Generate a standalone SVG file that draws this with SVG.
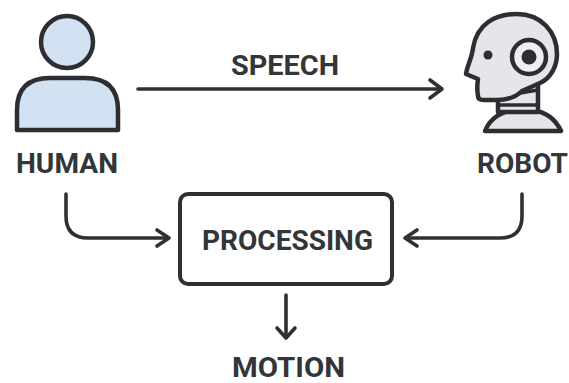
<svg xmlns="http://www.w3.org/2000/svg" width="569" height="383" viewBox="0 0 569 383">
<style>
.t{font-family:"Roboto","Liberation Sans",sans-serif;font-weight:700;font-size:27px;fill:#333538;text-anchor:middle}
.ln{fill:none;stroke:#2e3033;stroke-width:3.600;stroke-linecap:round;stroke-linejoin:round}
.ic{stroke:#2c2e32;stroke-width:4.500;stroke-linejoin:round}
</style>
<rect width="569" height="383" fill="#fff"/>
<g id="connectors" class="ln">
<path d="M138 89H441"/><path d="M430 80L442 89L430 98"/>
<path d="M66 194V216Q66 238 88 238H168"/><path d="M157 230L169 238L157 246"/>
<path d="M522 194V216Q522 238 500 238H406"/><path d="M417 230L405 238L417 246"/>
<path d="M286 295V337"/><path d="M277 328L286 338L295 328"/>
</g>
<text class="t" x="285" y="75" textLength="108" lengthAdjust="spacingAndGlyphs">SPEECH</text>
<g id="human">
<circle class="ic" cx="67" cy="42" r="26" fill="#d3e2f2"/>
<path class="ic" d="M17 130V110Q17 78 50 78H85Q118 78 118 110V130Z" fill="#d3e2f2"/>
<text class="t" x="67" y="173" textLength="102" lengthAdjust="spacingAndGlyphs">HUMAN</text>
</g>
<g id="robot">
<path class="ic" d="M485 131C490 118 503 110 517 110H532C546 112 556 120 561 131Z" fill="#e6e6ea"/>
<path class="ic" d="M498 100V112H538V82L498 100Z" fill="#e6e6ea"/>
<path d="M520 93L538 90M500 105H538" fill="none" stroke="#2c2e32" stroke-width="3.500"/>
<path class="ic" d="M478 96C477 90 477 85 478 79L466 74C467 66 472 58 473 48C477 24 495 14 517 14C541 14 557 32 557 54C557 66 551 78 540 83L522 91C516 97 506 100 497 100L484 100C480 100 478 99 478 96Z" fill="#e6e6ea"/>
<circle cx="488" cy="55" r="4.500" fill="#2c2e32"/>
<circle cx="529" cy="57" r="17" fill="#eeeef1" stroke="#2c2e32" stroke-width="4.500"/>
<circle cx="529" cy="57" r="7.500" fill="#2c2e32"/>
<text class="t" x="522.500" y="173" textLength="91" lengthAdjust="spacingAndGlyphs">ROBOT</text>
</g>
<g id="processing">
<rect x="180" y="194" width="212" height="90" rx="8" fill="#fff" stroke="#2e3033" stroke-width="4"/>
<text class="t" x="287.500" y="250" textLength="171" lengthAdjust="spacingAndGlyphs">PROCESSING</text>
</g>
<g id="motion">
<text class="t" x="288.500" y="376.500" textLength="113" lengthAdjust="spacingAndGlyphs">MOTION</text>
</g>
</svg>
